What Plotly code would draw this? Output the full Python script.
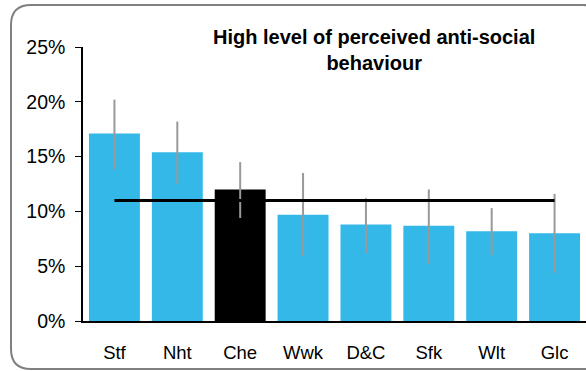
import plotly.graph_objects as go

categories = ["Stf", "Nht", "Che", "Wwk", "D&C", "Sfk", "Wlt", "Glc"]
values = [17.1, 15.4, 12.0, 9.7, 8.8, 8.7, 8.2, 8.0]
err_upper = [20.2, 18.2, 14.5, 13.5, 11.2, 12.0, 10.3, 11.6]
err_lower = [13.8, 12.5, 9.4, 5.9, 6.2, 5.2, 6.0, 4.4]
england_avg = 11.0
highlight = "Che"
title_text = "High level of perceived anti-social<br>behaviour"
y_ticks = [0, 5, 10, 15, 20, 25]
y_ticklabels = ["0%", "5%", "10%", "15%", "20%", "25%"]

BLUE = "#33B8E8"
colors = ["#000000" if c == highlight else BLUE for c in categories]
plus = [u - v for u, v in zip(err_upper, values)]
minus = [v - l for v, l in zip(values, err_lower)]

W, H = 586, 371
L, R, T, B = 83, 0, 47, 50
pw, ph = W - L - R, H - T - B

def px(x):
    return (x - L) / pw

def py(y):
    return (H - B - y) / ph

fig = go.Figure()
fig.add_trace(go.Bar(
    x=categories, y=values, marker_color=colors, marker_line_width=0,
    width=0.81,
    error_y=dict(type="data", symmetric=False, array=plus, arrayminus=minus,
                 color="#999999", thickness=2, width=0),
    showlegend=False, hoverinfo="skip",
))
fig.add_trace(go.Scatter(
    x=categories, y=[england_avg] * len(categories), mode="lines",
    line=dict(color="#000000", width=3), showlegend=False, hoverinfo="skip",
))

# rounded frame
x0, x1, y0, y1, r = 11, 603, 5, 369, 20
path = (
    f"M {px(x0 + r)} {py(y0)} L {px(x1 - r)} {py(y0)} "
    f"Q {px(x1)} {py(y0)} {px(x1)} {py(y0 + r)} "
    f"L {px(x1)} {py(y1 - r)} Q {px(x1)} {py(y1)} {px(x1 - r)} {py(y1)} "
    f"L {px(x0 + r)} {py(y1)} Q {px(x0)} {py(y1)} {px(x0)} {py(y1 - r)} "
    f"L {px(x0)} {py(y0 + r)} Q {px(x0)} {py(y0)} {px(x0 + r)} {py(y0)} Z"
)
fig.add_shape(type="path", path=path, xref="paper", yref="paper",
              line=dict(color="#808080", width=2), layer="above")

fig.add_annotation(
    text="<b>" + title_text + "</b>", xref="paper", yref="paper",
    x=px(374), y=py(50), xanchor="center", yanchor="middle", showarrow=False,
    font=dict(family="Liberation Sans, Arial, sans-serif", size=20, color="#000000"),
    align="center",
)

fig.update_layout(
    width=W, height=H, margin=dict(l=L, r=R, t=T, b=B),
    paper_bgcolor="white", plot_bgcolor="white",
    font=dict(family="Liberation Sans, Arial, sans-serif", color="#000000"),
    bargap=0.19,
    xaxis=dict(range=[-0.5, 7.5], showgrid=False, showline=True, linecolor="#000000",
               linewidth=1.5, ticks="", tickfont=dict(size=18.5),
               ticklabelstandoff=14, fixedrange=True),
    yaxis=dict(range=[0, 25], tickvals=y_ticks, ticktext=y_ticklabels,
               showgrid=False, zeroline=False, showline=True, linecolor="#000000",
               linewidth=1.5, ticks="outside", ticklen=6, tickcolor="#000000",
               tickwidth=1, tickfont=dict(size=19.5), ticklabelstandoff=6,
               fixedrange=True),
)

fig.write_html("out.html", config={"displayModeBar": False},
               post_script="document.body.style.margin='0px';document.body.style.overflow='hidden';")
